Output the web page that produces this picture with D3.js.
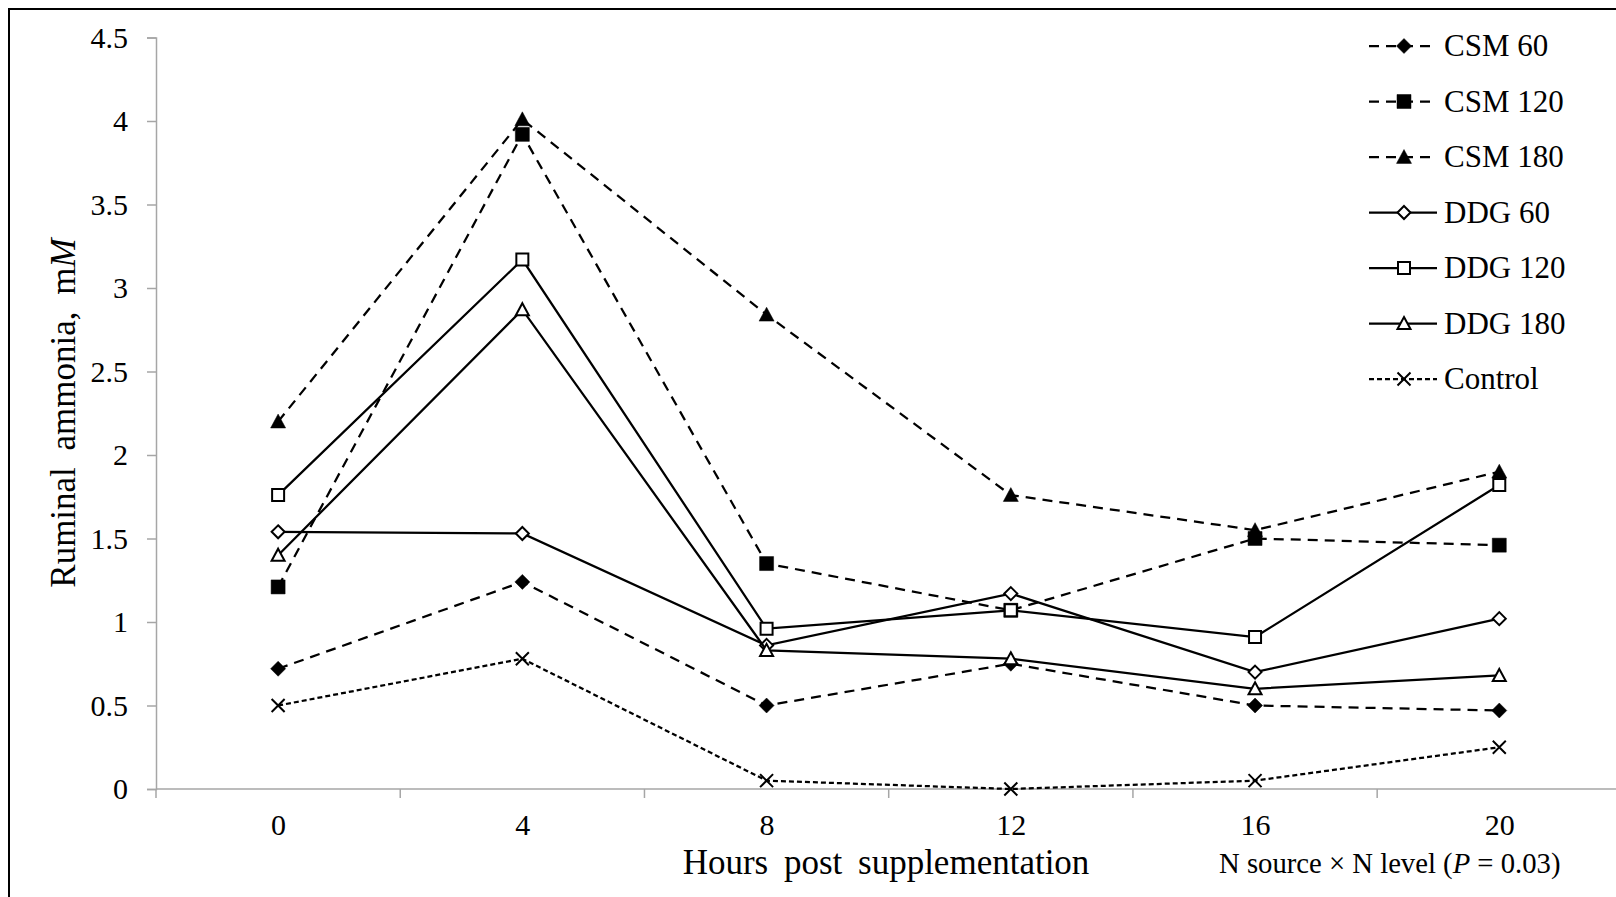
<!DOCTYPE html>
<html>
<head>
<meta charset="utf-8">
<script src="https://cdn.jsdelivr.net/npm/d3@7"></script>
<style>
  body { margin: 0; background: #fff; }
  svg { display: block; font-family: "Liberation Serif", "Times New Roman", serif; }
</style>
</head>
<body>
<div id="container"></div>
<script>
const hours = [0, 4, 8, 12, 16, 20];
const yTicks = [0, 0.5, 1, 1.5, 2, 2.5, 3, 3.5, 4, 4.5];
const seriesNames = ['CSM 60', 'CSM 120', 'CSM 180', 'DDG 60', 'DDG 120', 'DDG 180', 'Control'];
const csm60 = [0.72, 1.24, 0.50, 0.75, 0.50, 0.47];
const csm120 = [1.21, 3.92, 1.35, 1.07, 1.50, 1.46];
const csm180 = [2.20, 4.01, 2.84, 1.76, 1.55, 1.90];
const ddg60 = [1.54, 1.53, 0.86, 1.17, 0.70, 1.02];
const ddg120 = [1.76, 3.17, 0.96, 1.07, 0.91, 1.82];
const ddg180 = [1.40, 2.87, 0.83, 0.78, 0.60, 0.68];
const control = [0.50, 0.78, 0.05, 0.00, 0.05, 0.25];
const seriesValues = [csm60, csm120, csm180, ddg60, ddg120, ddg180, control];

// look of each series: marker shape, filled or open, dash pattern
const styles = [
    { shape: 'diamond', fill: true, dash: '10,7' },
    { shape: 'square', fill: true, dash: '10,7' },
    { shape: 'triangle', fill: true, dash: '10,7' },
    { shape: 'diamond', fill: false, dash: null },
    { shape: 'square', fill: false, dash: null },
    { shape: 'triangle', fill: false, dash: null },
    { shape: 'x', fill: false, dash: '5,3' }
];

const markerPath = (shape, fill) => {
    if (shape === 'diamond') {
        const s = fill ? 7.5 : 6.5;
        return `M0,${-s}L${s},0L0,${s}L${-s},0Z`;
    }
    if (shape === 'square') {
        const s = fill ? 7 : 6;
        return `M${-s},${-s}H${s}V${s}H${-s}Z`;
    }
    if (shape === 'triangle') {
        const s = fill ? 7.5 : 6.5;
        return `M0,${-s}L${s},${s * 0.85}L${-s},${s * 0.85}Z`;
    }
    return 'M-6.5,-6.5L6.5,6.5M6.5,-6.5L-6.5,6.5';
};

const drawMarker = (g, st) => {
    g.append('path')
        .attr('d', markerPath(st.shape, st.fill))
        .attr('fill', st.shape === 'x' ? 'none' : (st.fill ? '#000' : '#fff'))
        .attr('stroke', '#000')
        .attr('stroke-width', st.fill ? 0.5 : 2);
};

const svg = d3.select('#container')
    .append('svg')
    .attr('width', 1616)
    .attr('height', 897);

// frame (only top and left edges are visible)
svg.append('rect')
    .attr('x', 9).attr('y', 9)
    .attr('width', 1700).attr('height', 1000)
    .attr('fill', 'none')
    .attr('stroke', '#000')
    .attr('stroke-width', 2);

const xBand = d3.scaleBand().domain(hours).range([156, 1621.4]);
const xScale = d3.scalePoint().domain(hours).range([156, 1621.4]).padding(0.5);
const yScale = d3.scaleLinear().domain([0, 4.5]).range([789, 37.5]);

// y axis
const yAxis = d3.axisLeft(yScale)
    .tickValues(yTicks)
    .tickSize(9)
    .tickPadding(19)
    .tickFormat((d) => String(d));

svg.append('g')
    .attr('transform', 'translate(156,0)')
    .call(yAxis)
    .call(g => g.select('.domain').attr('stroke', '#a6a6a6').attr('stroke-width', 1.5))
    .call(g => g.selectAll('.tick line').attr('stroke', '#a6a6a6').attr('stroke-width', 1.5))
    .call(g => g.selectAll('.tick text')
        .attr('fill', '#000')
        .style('font-size', '30px')
        .style('font-family', '"Liberation Serif", serif'));

// x axis: labels at category centres, ticks on category boundaries
const xAxis = d3.axisBottom(xScale)
    .tickSize(0)
    .tickPadding(25);

svg.append('g')
    .attr('transform', 'translate(0,789)')
    .call(xAxis)
    .call(g => g.select('.domain').remove())
    .call(g => g.selectAll('.tick text')
        .attr('fill', '#000')
        .style('font-size', '30px')
        .style('font-family', '"Liberation Serif", serif'));

svg.append('g')
    .selectAll('line')
    .data(hours)
    .enter()
    .append('line')
    .attr('x1', (d) => xBand(d))
    .attr('x2', (d) => xBand(d))
    .attr('y1', 789)
    .attr('y2', 798)
    .attr('stroke', '#a6a6a6')
    .attr('stroke-width', 1.5);

svg.append('line')
    .attr('x1', 156).attr('x2', 1621.4)
    .attr('y1', 789).attr('y2', 789)
    .attr('stroke', '#a6a6a6')
    .attr('stroke-width', 1.5);

// series
const line = d3.line()
    .x((d, i) => xScale(hours[i]))
    .y((d) => yScale(d));

seriesValues.forEach((vals, k) => {
    const st = styles[k];
    const g = svg.append('g').attr('class', 'series');
    g.append('path')
        .attr('d', line(vals))
        .attr('fill', 'none')
        .attr('stroke', '#000')
        .attr('stroke-width', 2.25)
        .attr('stroke-dasharray', st.dash);
    vals.forEach((v, i) => {
        const m = g.append('g')
            .attr('transform', 'translate(' + xScale(hours[i]) + ',' + yScale(v) + ')');
        drawMarker(m, st);
    });
});

// legend
const legend = svg.append('g').attr('class', 'legend');
seriesNames.forEach((name, k) => {
    const st = styles[k];
    const cy = 46 + k * 55.5;
    legend.append('line')
        .attr('x1', 1369).attr('x2', 1437)
        .attr('y1', cy).attr('y2', cy)
        .attr('stroke', '#000')
        .attr('stroke-width', 2.25)
        .attr('stroke-dasharray', st.dash);
    const m = legend.append('g').attr('transform', 'translate(1404,' + cy + ')');
    drawMarker(m, st);
    legend.append('text')
        .attr('x', 1444)
        .attr('y', cy + 10)
        .style('font-size', '31px')
        .text(name);
});

// axis titles
const yTitle = svg.append('text')
    .attr('transform', 'translate(75,413) rotate(-90)')
    .attr('text-anchor', 'middle')
    .style('font-size', '35px')
    .style('word-spacing', '8px');
yTitle.append('tspan').text('Ruminal ammonia, m');
yTitle.append('tspan').style('font-style', 'italic').text('M');

svg.append('text')
    .attr('x', 886)
    .attr('y', 874)
    .attr('text-anchor', 'middle')
    .style('font-size', '35px')
    .style('word-spacing', '7px')
    .text('Hours post supplementation');

const note = svg.append('text')
    .attr('x', 1219)
    .attr('y', 873)
    .style('font-size', '28.7px');
note.append('tspan').text('N source \u00d7 N level (');
note.append('tspan').style('font-style', 'italic').text('P');
note.append('tspan').text(' = 0.03)');
</script>
</body>
</html>
